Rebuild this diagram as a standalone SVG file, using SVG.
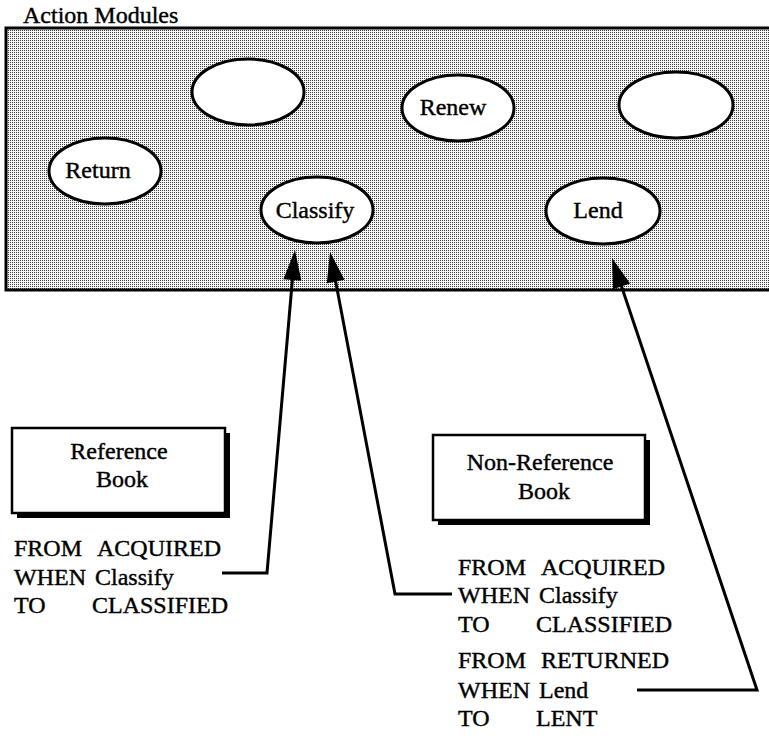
<svg xmlns="http://www.w3.org/2000/svg" width="769" height="739" viewBox="0 0 769 739" font-family="Liberation Serif, Times New Roman, serif">
  <style>
    .t { font-family: Liberation Serif, Tinos, Times New Roman, serif; font-size: 24px; fill: #000; stroke: #000; stroke-width: 0.4px; }
    .mid { text-anchor: middle; }
    .module { fill: #fff; stroke: #000; stroke-width: 3; }
    .frame { fill: #fff; stroke: #000; stroke-width: 2.5; }
    .shadow { fill: #000; }
    .wire { fill: none; stroke: #000; stroke-width: 3; stroke-linejoin: miter; }
  </style>
  <defs>
    <!-- halftone screen for the module panel -->
    <pattern id="screen" x="0" y="0" width="2" height="2" patternUnits="userSpaceOnUse">
      <rect width="2" height="2" fill="#f6f6f6"/>
      <rect width="1" height="1" fill="#3a3a3a"/>
    </pattern>
    <marker id="head" viewBox="-21 -10 32 20" markerWidth="32" markerHeight="20" refX="0" refY="0" orient="auto" markerUnits="userSpaceOnUse">
      <path d="M10,0 L-20,-9 L-20,9 Z" fill="#000"/>
    </marker>
  </defs>

  <rect width="769" height="739" fill="#fff"/>

  <!-- module panel -->
  <g id="panel">
    <text class="t" x="23" y="23" font-family="Liberation Serif">Action Modules</text>
    <rect x="6" y="28" width="790" height="262" fill="url(#screen)" stroke="#000" stroke-width="3"/>
  </g>

  <g id="module-blank-1"><ellipse class="module" cx="248" cy="92" rx="56" ry="33"/></g>
  <g id="module-renew">
    <ellipse class="module" cx="458" cy="108" rx="56" ry="33"/>
    <text class="t mid" x="453" y="115">Renew</text>
  </g>
  <g id="module-blank-2"><ellipse class="module" cx="676" cy="105" rx="57" ry="33"/></g>
  <g id="module-return">
    <ellipse class="module" cx="105" cy="171" rx="56" ry="33"/>
    <text class="t mid" x="98" y="178">Return</text>
  </g>
  <g id="module-classify">
    <ellipse class="module" cx="317" cy="210" rx="56" ry="33"/>
    <text class="t mid" x="315" y="218">Classify</text>
  </g>
  <g id="module-lend">
    <ellipse class="module" cx="603" cy="211" rx="57" ry="33"/>
    <text class="t mid" x="598" y="218">Lend</text>
  </g>

  <!-- object classes -->
  <g id="reference-book">
    <rect class="shadow" x="17" y="433" width="213" height="85"/>
    <rect class="frame" x="12" y="428" width="213" height="85"/>
    <text class="t mid" x="119" y="459">Reference</text>
    <text class="t mid" x="122" y="487">Book</text>
  </g>
  <g id="reference-rule">
    <text class="t" x="14" y="556">FROM</text><text class="t" x="97" y="556">ACQUIRED</text>
    <text class="t" x="14" y="585">WHEN</text><text class="t" x="95" y="585">Classify</text>
    <text class="t" x="14" y="613">TO</text><text class="t" x="92" y="613">CLASSIFIED</text>
  </g>

  <g id="non-reference-book">
    <rect class="shadow" x="438" y="440" width="212" height="85"/>
    <rect class="frame" x="433" y="435" width="212" height="85"/>
    <text class="t mid" x="540" y="470">Non-Reference</text>
    <text class="t mid" x="544" y="499">Book</text>
  </g>
  <g id="non-reference-rules">
    <text class="t" x="458" y="575">FROM</text><text class="t" x="541" y="575">ACQUIRED</text>
    <text class="t" x="458" y="603">WHEN</text><text class="t" x="539" y="603">Classify</text>
    <text class="t" x="458" y="632">TO</text><text class="t" x="536" y="632">CLASSIFIED</text>
    <text class="t" x="458" y="668">FROM</text><text class="t" x="541" y="668">RETURNED</text>
    <text class="t" x="458" y="698">WHEN</text><text class="t" x="539" y="698">Lend</text>
    <text class="t" x="458" y="726">TO</text><text class="t" x="536" y="726">LENT</text>
  </g>

  <!-- triggers -->
  <g id="connectors">
    <polyline class="wire" points="222,573 267,573 294.1,260" marker-end="url(#head)"/>
    <polyline class="wire" points="452,594 395,594 331.9,261.8" marker-end="url(#head)"/>
    <polyline class="wire" points="637,690 757,690 615.2,267.5" marker-end="url(#head)"/>
  </g>
</svg>
